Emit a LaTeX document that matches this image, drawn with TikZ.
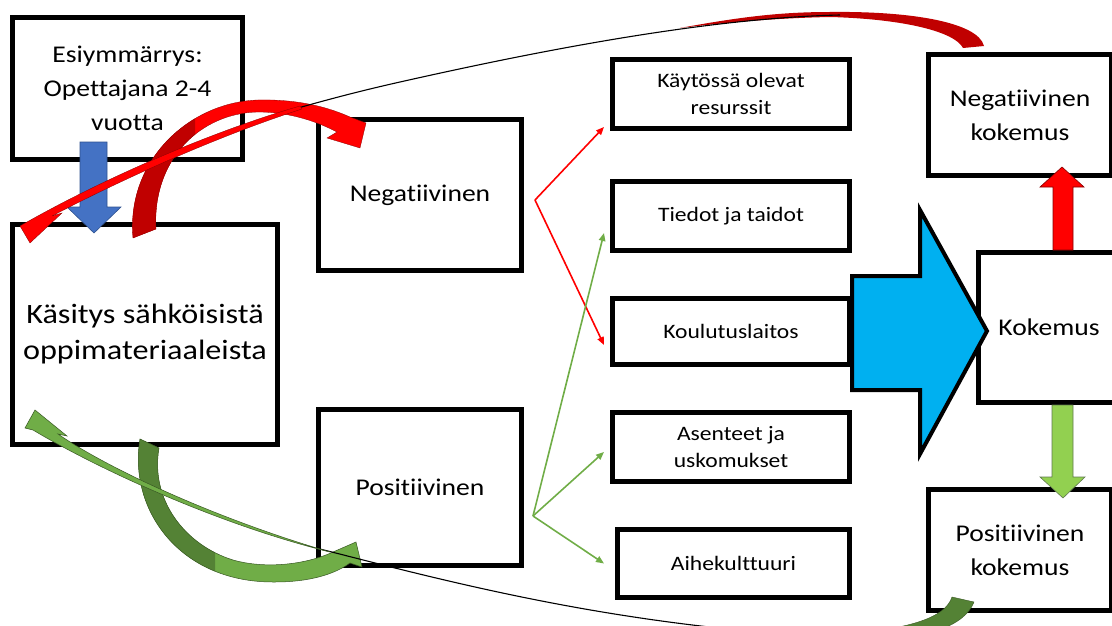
\documentclass[tikz,border=0pt]{standalone}
\usepackage{fontspec}
\setmainfont{Carlito}[FakeStretch=1.15, Ligatures=NoCommon]
\usetikzlibrary{arrows.meta,calc}
\definecolor{bluearrow}{RGB}{68,114,196}
\definecolor{bluearrowline}{RGB}{47,82,143}
\definecolor{cyanarrow}{RGB}{0,176,240}
\definecolor{darkred}{RGB}{192,0,0}
\definecolor{brightred}{RGB}{255,0,0}
\definecolor{darkgreen}{RGB}{84,130,53}
\definecolor{midgreen}{RGB}{112,173,71}
\definecolor{lightgreen}{RGB}{146,208,80}
\definecolor{greenline}{RGB}{56,87,35}
\begin{document}
\begin{tikzpicture}[x=1pt,y=-1pt,
  box/.style={draw=black, line width=5pt, fill=white, inner sep=0pt, align=center},
  bigtext/.style={font=\fontsize{24}{34}\selectfont},
  hugetext/.style={font=\fontsize{28}{36}\selectfont},
  smalltext/.style={font=\fontsize{20.5}{27}\selectfont},
  thinred/.style={draw=brightred, line width=1.6pt, -{Triangle[length=8pt,width=6.5pt]}},
  thingreen/.style={draw=midgreen, line width=1.6pt, -{Triangle[length=8pt,width=6.5pt]}},
  blockline/.style={line width=0.6pt}
]
\useasboundingbox (0,0) rectangle (1112,626);
\clip (0,0) rectangle (1112,626);

% boxes
\node[box, bigtext, minimum width=230pt, minimum height=142pt] (esi) at (127.5,88.5) {Esiymmärrys:\\Opettajana 2-4\\vuotta};
\node[box, hugetext, minimum width=265pt, minimum height=220pt] (kas) at (145,334.5) {Käsitys sähköisistä\\oppimateriaaleista};
\node[box, bigtext, minimum width=203pt, minimum height=151pt] (neg) at (420,195) {Negatiivinen};
\node[box, bigtext, minimum width=203pt, minimum height=156pt] (pos) at (420,487.5) {Positiivinen};

\node[box, smalltext, minimum width=237pt, minimum height=69pt] (r1) at (731,94) {Käytössä olevat\\resurssit};
\node[box, smalltext, minimum width=237pt, minimum height=69pt] (r2) at (731,216) {Tiedot ja taidot};
\node[box, smalltext, minimum width=237pt, minimum height=66pt] (r3) at (731,331.5) {Koulutuslaitos};
\node[box, smalltext, minimum width=237pt, minimum height=69pt] (r4) at (731,447) {Asenteet ja\\uskomukset};
\node[box, smalltext, minimum width=232pt, minimum height=68pt] (r5) at (733.5,563.5) {Aihekulttuuri};

\node[box, bigtext, minimum width=141pt, minimum height=150pt] (kok) at (1049,327.5) {Kokemus};
\node[box, bigtext, minimum width=183pt, minimum height=121pt] (nk) at (1020,115) {Negatiivinen\\kokemus};
\node[box, bigtext, minimum width=183pt, minimum height=121pt] (pk) at (1020,550) {Positiivinen\\kokemus};

% big cyan arrow
\draw[fill=cyanarrow, line width=4pt, line join=miter] (852,276) -- (920,276) -- (920,210) -- (987,331) -- (920,454) -- (920,390) -- (852,390) -- cycle;

% block arrows
\draw[fill=bluearrow, draw=bluearrowline, blockline] (80,142) -- (107,142) -- (107,207) -- (121,207) -- (94,233) -- (67,207) -- (80,207) -- cycle;
\draw[fill=brightred, draw=darkred!70!black, blockline] (1053,250) -- (1073,250) -- (1073,187) -- (1084,187) -- (1062,167) -- (1040,187) -- (1053,187) -- cycle;
\draw[fill=lightgreen, draw=greenline!80, blockline] (1052,405) -- (1073,405) -- (1073,477) -- (1085,477) -- (1063,498) -- (1040,477) -- (1052,477) -- cycle;

% thin connectors
\coordinate (nv) at ($(neg.east)+(11,5)$);
\coordinate (pv) at ($(pos.east)+(9,28.5)$);
\draw[thinred] (nv) -- ($(r1.south west)+(-6,-4)$);
\draw[thinred] (nv) -- ($(r3.west)+(-6,13.5)$);
\draw[thingreen] (pv) -- ($(r2.west)+(-6,17)$);
\draw[thingreen] (pv) -- ($(r4.west)+(-6,5)$);
\draw[thingreen] (pv) -- ($(r5.west)+(-11,0)$);

% green curved arrow 1 (Kasitys -> Positiivinen)
\def\gone{(140,439) .. controls (128,510) and (180,583) .. (275,582) .. controls (310,582) and (335,574) .. (350,563) -- (362,567) -- (356,542) -- (333,552) .. controls (305,565) and (265,569) .. (233,560) .. controls (185,545) and (150,500) .. (159,448) -- cycle}
\fill[midgreen] \gone;
\begin{scope}
\clip (0,400) rectangle (215,626);
\fill[darkgreen] \gone;
\end{scope}
\draw[greenline, line width=0.5pt] \gone;

% red curved arrow 1 (Kasitys -> Negatiivinen)
\def\rone{(133,238) .. controls (126,160) and (190,102) .. (258,100) .. controls (300,99) and (330,108) .. (350,117) -- (366,123) -- (360,148) -- (327,138) -- (337,132) .. controls (312,119) and (285,112) .. (258,112) .. controls (200,113) and (152,160) .. (156,229) -- cycle}
\fill[brightred] \rone;
\begin{scope}
\clip (0,118) rectangle (195,260);
\fill[darkred] \rone;
\end{scope}
\draw[darkred!70!black, line width=0.3pt] \rone;

% red curved arrow 2 (Negatiivinen kokemus -> Kasitys)
\fill[darkred] (680,28) .. controls (740,17) and (780,12) .. (830,12) .. controls (910,11) and (978,22) .. (984,46) -- (963,48) .. controls (955,32) and (905,19) .. (830,17) .. controls (780,18) and (730,22) .. (680,28) -- cycle;
\draw[black, line width=1.1pt] (840,15) .. controls (700,18) and (520,55) .. (400,82) .. controls (360,91) and (330,99) .. (298,108);
\fill[brightred, draw=darkred!70!black, line width=0.3pt] (300,106) .. controls (210,132) and (100,180) .. (20,226) -- (30,243) -- (62,213) -- (52,216) .. controls (115,183) and (212,138) .. (302,109) -- cycle;

% green curved arrow 2 (Positiivinen kokemus -> Kasitys)
\fill[darkgreen, draw=greenline, line width=0.4pt] (952,597) .. controls (945,618) and (910,628) .. (850,634) -- (850,645) .. controls (930,640) and (965,625) .. (974,602) -- cycle;
\draw[black, line width=1.1pt] (320,549) .. controls (450,582) and (620,628) .. (850,638);
\fill[midgreen, draw=greenline, line width=0.5pt] (330,552) .. controls (220,525) and (100,470) .. (33,430) -- (25,428) -- (35,410) -- (67,436) -- (58,434) .. controls (110,470) and (220,520) .. (330,552) -- cycle;
\end{tikzpicture}
\end{document}
